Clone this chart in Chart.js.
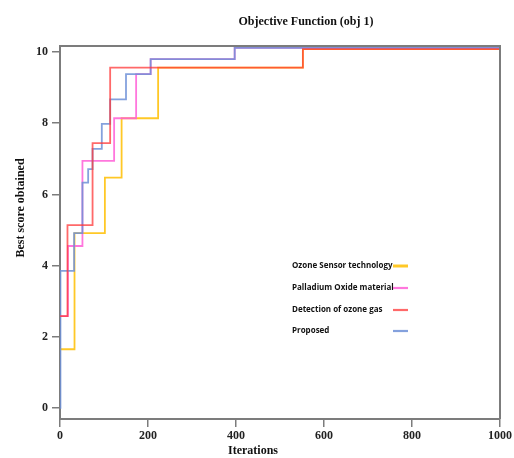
<!DOCTYPE html>
<html>
<head>
<meta charset="utf-8">
<script src="https://cdn.jsdelivr.net/npm/chart.js@4.4.1/dist/chart.umd.min.js"></script>
<style>
  html, body { margin: 0; padding: 0; background: #fff; }
</style>
</head>
<body>
<canvas id="obj" width="514" height="458"></canvas>
<script>
// series, in legend order
const seriesNames = ['Ozone Sensor technology', 'Palladium Oxide material', 'Detection of ozone gas', 'Proposed'];
const seriesColors = ['rgba(255,190,0,0.85)', 'rgba(255,95,215,0.85)', 'rgba(255,55,55,0.75)', 'rgba(110,145,215,0.85)'];

// iteration where each step starts, and the best score from there on
const ozoneIter = [0, 33, 102, 140, 223, 552, 1000];
const ozoneScore = [1.65, 4.91, 6.47, 8.14, 9.56, 10.08, 10.08];

const palladiumIter = [0, 18, 51, 123, 173, 206, 397, 1000];
const palladiumScore = [2.58, 4.55, 6.94, 8.14, 9.38, 9.80, 10.12, 10.12];

const detectionIter = [0, 17, 74, 114, 552, 1000];
const detectionScore = [2.58, 5.14, 7.44, 9.56, 10.08, 10.08];

const proposedIter = [0, 1, 32, 51, 64, 74, 95, 114, 150, 206, 397, 1000];
const proposedScore = [0, 3.85, 4.91, 6.33, 6.71, 7.28, 7.98, 8.67, 9.38, 9.80, 10.12, 10.12];

const xTicks = [0, 200, 400, 600, 800, 1000];
const yTicks = [0, 2, 4, 6, 8, 10];

const toPoints = (xs, ys) => xs.map((x, i) => ({ x: x, y: ys[i] }));

const seriesData = [
    toPoints(ozoneIter, ozoneScore),
    toPoints(palladiumIter, palladiumScore),
    toPoints(detectionIter, detectionScore),
    toPoints(proposedIter, proposedScore)
];
const drawOrder = [3, 2, 0, 1]; // red on top, then blue

const serif = 'Liberation Serif';
const axisGray = '#7c7c7c';

const decorations = {
    id: 'decorations',
    afterDatasetsDraw(chart) {
        const ctx = chart.ctx;
        const a = chart.chartArea;
        ctx.save();
        // closing the box
        ctx.strokeStyle = axisGray;
        ctx.lineWidth = 2;
        ctx.beginPath();
        ctx.moveTo(a.left, a.top);
        ctx.lineTo(a.right, a.top);
        ctx.lineTo(a.right, a.bottom);
        ctx.stroke();

        // titles
        ctx.fillStyle = '#111';
        ctx.font = `bold 12px "${serif}"`;
        ctx.textAlign = 'center';
        ctx.textBaseline = 'middle';
        ctx.fillText('Objective Function (obj 1)', 306, 22);
        ctx.fillText('Iterations', 253, 451);
        ctx.save();
        ctx.translate(21, 208);
        ctx.rotate(-Math.PI / 2);
        ctx.fillText('Best score obtained', 0, 0);
        ctx.restore();

        // legend inside the plot
        const rows = [266, 288, 310, 331];
        ctx.font = 'bold 8px "Open Sans"';
        ctx.textAlign = 'left';
        seriesNames.forEach((name, i) => {
            ctx.fillStyle = '#111';
            ctx.fillText(name, 292, rows[i]);
            ctx.strokeStyle = seriesColors[i];
            ctx.lineWidth = i === 0 ? 3 : 2.2;
            ctx.beginPath();
            ctx.moveTo(393, rows[i]);
            ctx.lineTo(408, rows[i]);
            ctx.stroke();
        });
        ctx.restore();
    }
};

const tickFont = { family: serif, weight: 'bold', size: 12 };

new Chart(document.getElementById('obj'), {
    type: 'line',
    data: {
        datasets: seriesNames.map((name, i) => ({
            label: name,
            data: seriesData[i],
            borderColor: seriesColors[i],
            borderWidth: 1.8,
            pointRadius: 0,
            stepped: true,
            fill: false,
            order: drawOrder[i]
        }))
    },
    options: {
        responsive: false,
        animation: false,
        layout: { padding: { top: 46, right: 14, left: 0, bottom: 0 } },
        plugins: {
            legend: { display: false },
            tooltip: { enabled: false }
        },
        scales: {
            x: {
                type: 'linear',
                min: 0,
                max: 1000,
                afterBuildTicks: s => { s.ticks = xTicks.map(v => ({ value: v })); },
                afterFit: s => { s.height = 39; },
                ticks: { font: tickFont, color: '#222', padding: 2, maxRotation: 0, callback: v => String(v) },
                grid: { drawOnChartArea: false, drawTicks: true, tickLength: 8, color: axisGray, lineWidth: 1.5 },
                border: { display: true, color: axisGray, width: 2 }
            },
            y: {
                type: 'linear',
                min: -0.31,
                max: 10.17,
                afterBuildTicks: s => { s.ticks = yTicks.map(v => ({ value: v })); },
                afterFit: s => { s.width = 60; },
                ticks: { font: tickFont, color: '#222', padding: 4, callback: v => String(v) },
                grid: { drawOnChartArea: false, drawTicks: true, tickLength: 8, color: axisGray, lineWidth: 1.5 },
                border: { display: true, color: axisGray, width: 2 }
            }
        }
    },
    plugins: [decorations]
});
</script>
</body>
</html>
